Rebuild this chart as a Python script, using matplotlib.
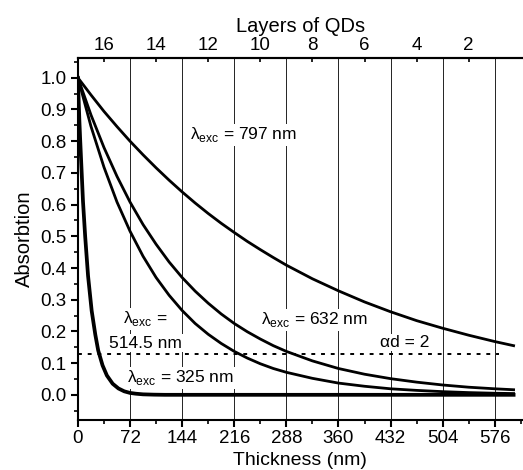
import matplotlib
matplotlib.use('Agg')
import matplotlib.pyplot as plt
import numpy as np
from matplotlib.ticker import MultipleLocator, FormatStrFormatter

plt.rcParams['font.family'] = 'Liberation Sans'
plt.rcParams['mathtext.fontset'] = 'custom'
plt.rcParams['mathtext.rm'] = 'Liberation Sans'

# Daten
thickness = [0, 18, 36, 54, 72, 90, 108, 126, 144, 162, 180, 198, 216,
             234, 252, 270, 288, 324, 360, 396, 432, 468, 504, 540, 576, 602]
abs_797 = [1.0, 0.946, 0.894, 0.846, 0.800, 0.757, 0.716, 0.677, 0.640,
           0.605, 0.572, 0.541, 0.512, 0.484, 0.458, 0.433, 0.409,
           0.366, 0.328, 0.293, 0.262, 0.234, 0.210, 0.188, 0.168, 0.155]
abs_632 = [1.0, 0.883, 0.780, 0.689, 0.608, 0.537, 0.475, 0.419, 0.370,
           0.327, 0.289, 0.255, 0.225, 0.199, 0.176, 0.155, 0.137,
           0.107, 0.083, 0.065, 0.051, 0.040, 0.031, 0.024, 0.019, 0.016]
abs_514 = [1.0, 0.847, 0.718, 0.608, 0.516, 0.437, 0.370, 0.314, 0.266,
           0.225, 0.191, 0.162, 0.137, 0.116, 0.098, 0.083, 0.071,
           0.052, 0.037, 0.027, 0.019, 0.014, 0.010, 0.007, 0.005, 0.004]

thickness_325 = [0, 1, 2, 3, 4, 5, 7, 10, 14, 19, 24, 28, 34, 40, 48, 56,
                 64, 72, 80, 90, 105, 120, 602]
abs_325 = [1.0, 0.93, 0.865, 0.81, 0.76, 0.71, 0.61, 0.50, 0.375, 0.265,
           0.19, 0.14, 0.093, 0.061, 0.035, 0.020, 0.011, 0.006, 0.0035,
           0.0015, 0.0005, 0.0, 0.0]

ad2_level = 0.128
ad2_range = [0, 582]

grid_pos = [72, 144, 216, 288, 360, 432, 504, 576]
layer_pos = [36, 108, 180, 252, 324, 396, 468, 540]
layer_labels = ['16', '14', '12', '10', '8', '6', '4', '2']

fig = plt.figure(figsize=(5.23, 4.70), dpi=100)
ax = fig.add_axes([0.149, 0.106, 0.851, 0.771])

for g in grid_pos:
    ax.axvline(g, color='black', lw=0.6, zorder=1)

ax.plot(thickness, abs_797, color='black', lw=2.0, zorder=3)
ax.plot(thickness, abs_632, color='black', lw=2.0, zorder=3)
ax.plot(thickness, abs_514, color='black', lw=2.0, zorder=3)
ax.plot(thickness_325, abs_325, color='black', lw=2.7, zorder=3)
ax.plot(ad2_range, [ad2_level, ad2_level], color='black', lw=1.4,
        linestyle=(0, (2, 3)), zorder=3)

box = dict(facecolor='white', edgecolor='none', pad=1)
fs = 12.5
ax.text(155, 0.82, 'λ$_{\\mathrm{exc}}$ = 797 nm', fontsize=fs,
        va='center', ha='left', bbox=box, zorder=4)
ax.text(253, 0.237, 'λ$_{\\mathrm{exc}}$ = 632 nm', fontsize=fs,
        va='center', ha='left', bbox=box, zorder=4)
ax.text(93, 0.24, 'λ$_{\\mathrm{exc}}$ =', fontsize=fs,
        va='center', ha='center', bbox=box, zorder=4)
ax.text(93, 0.163, '514.5 nm', fontsize=fs,
        va='center', ha='center', bbox=box, zorder=4)
ax.text(452, 0.165, 'αd = 2', fontsize=fs,
        va='center', ha='center', bbox=box, zorder=4)
ax.text(68, 0.054, 'λ$_{\\mathrm{exc}}$ = 325 nm', fontsize=fs,
        va='center', ha='left', bbox=box, zorder=4)

ax.set_xlim(0, 615)
ax.set_ylim(-0.08, 1.063)
ax.xaxis.set_major_locator(MultipleLocator(72))
ax.xaxis.set_minor_locator(MultipleLocator(36))
ax.yaxis.set_major_locator(MultipleLocator(0.1))
ax.yaxis.set_minor_locator(MultipleLocator(0.05))
ax.yaxis.set_major_formatter(FormatStrFormatter('%.1f'))
ax.tick_params(which='major', direction='out', length=5, width=1.5,
               labelsize=13.5, pad=3)
ax.tick_params(which='minor', direction='out', length=3, width=1.2)
ax.tick_params(axis='x', pad=2)
ax.set_ylabel('Absorbtion', fontsize=14.5, labelpad=5)
fig.text(0.573, 0.003, 'Thickness (nm)', fontsize=14, ha='center',
         va='bottom')
for s in ['left', 'bottom', 'top']:
    ax.spines[s].set_linewidth(1.5)
ax.spines['right'].set_visible(False)

top = ax.twiny()
top.set_xlim(ax.get_xlim())
top.set_xticks(layer_pos)
top.set_xticklabels(layer_labels)
top.tick_params(direction='in', length=3, width=1.2, labelsize=13.5, pad=3)
top.set_xlabel('Layers of QDs', fontsize=14.5, labelpad=3)
top.spines['top'].set_linewidth(1.5)
top.spines['right'].set_visible(False)
top.spines['left'].set_visible(False)
top.spines['bottom'].set_visible(False)

fig.savefig('out.png', dpi=100)
